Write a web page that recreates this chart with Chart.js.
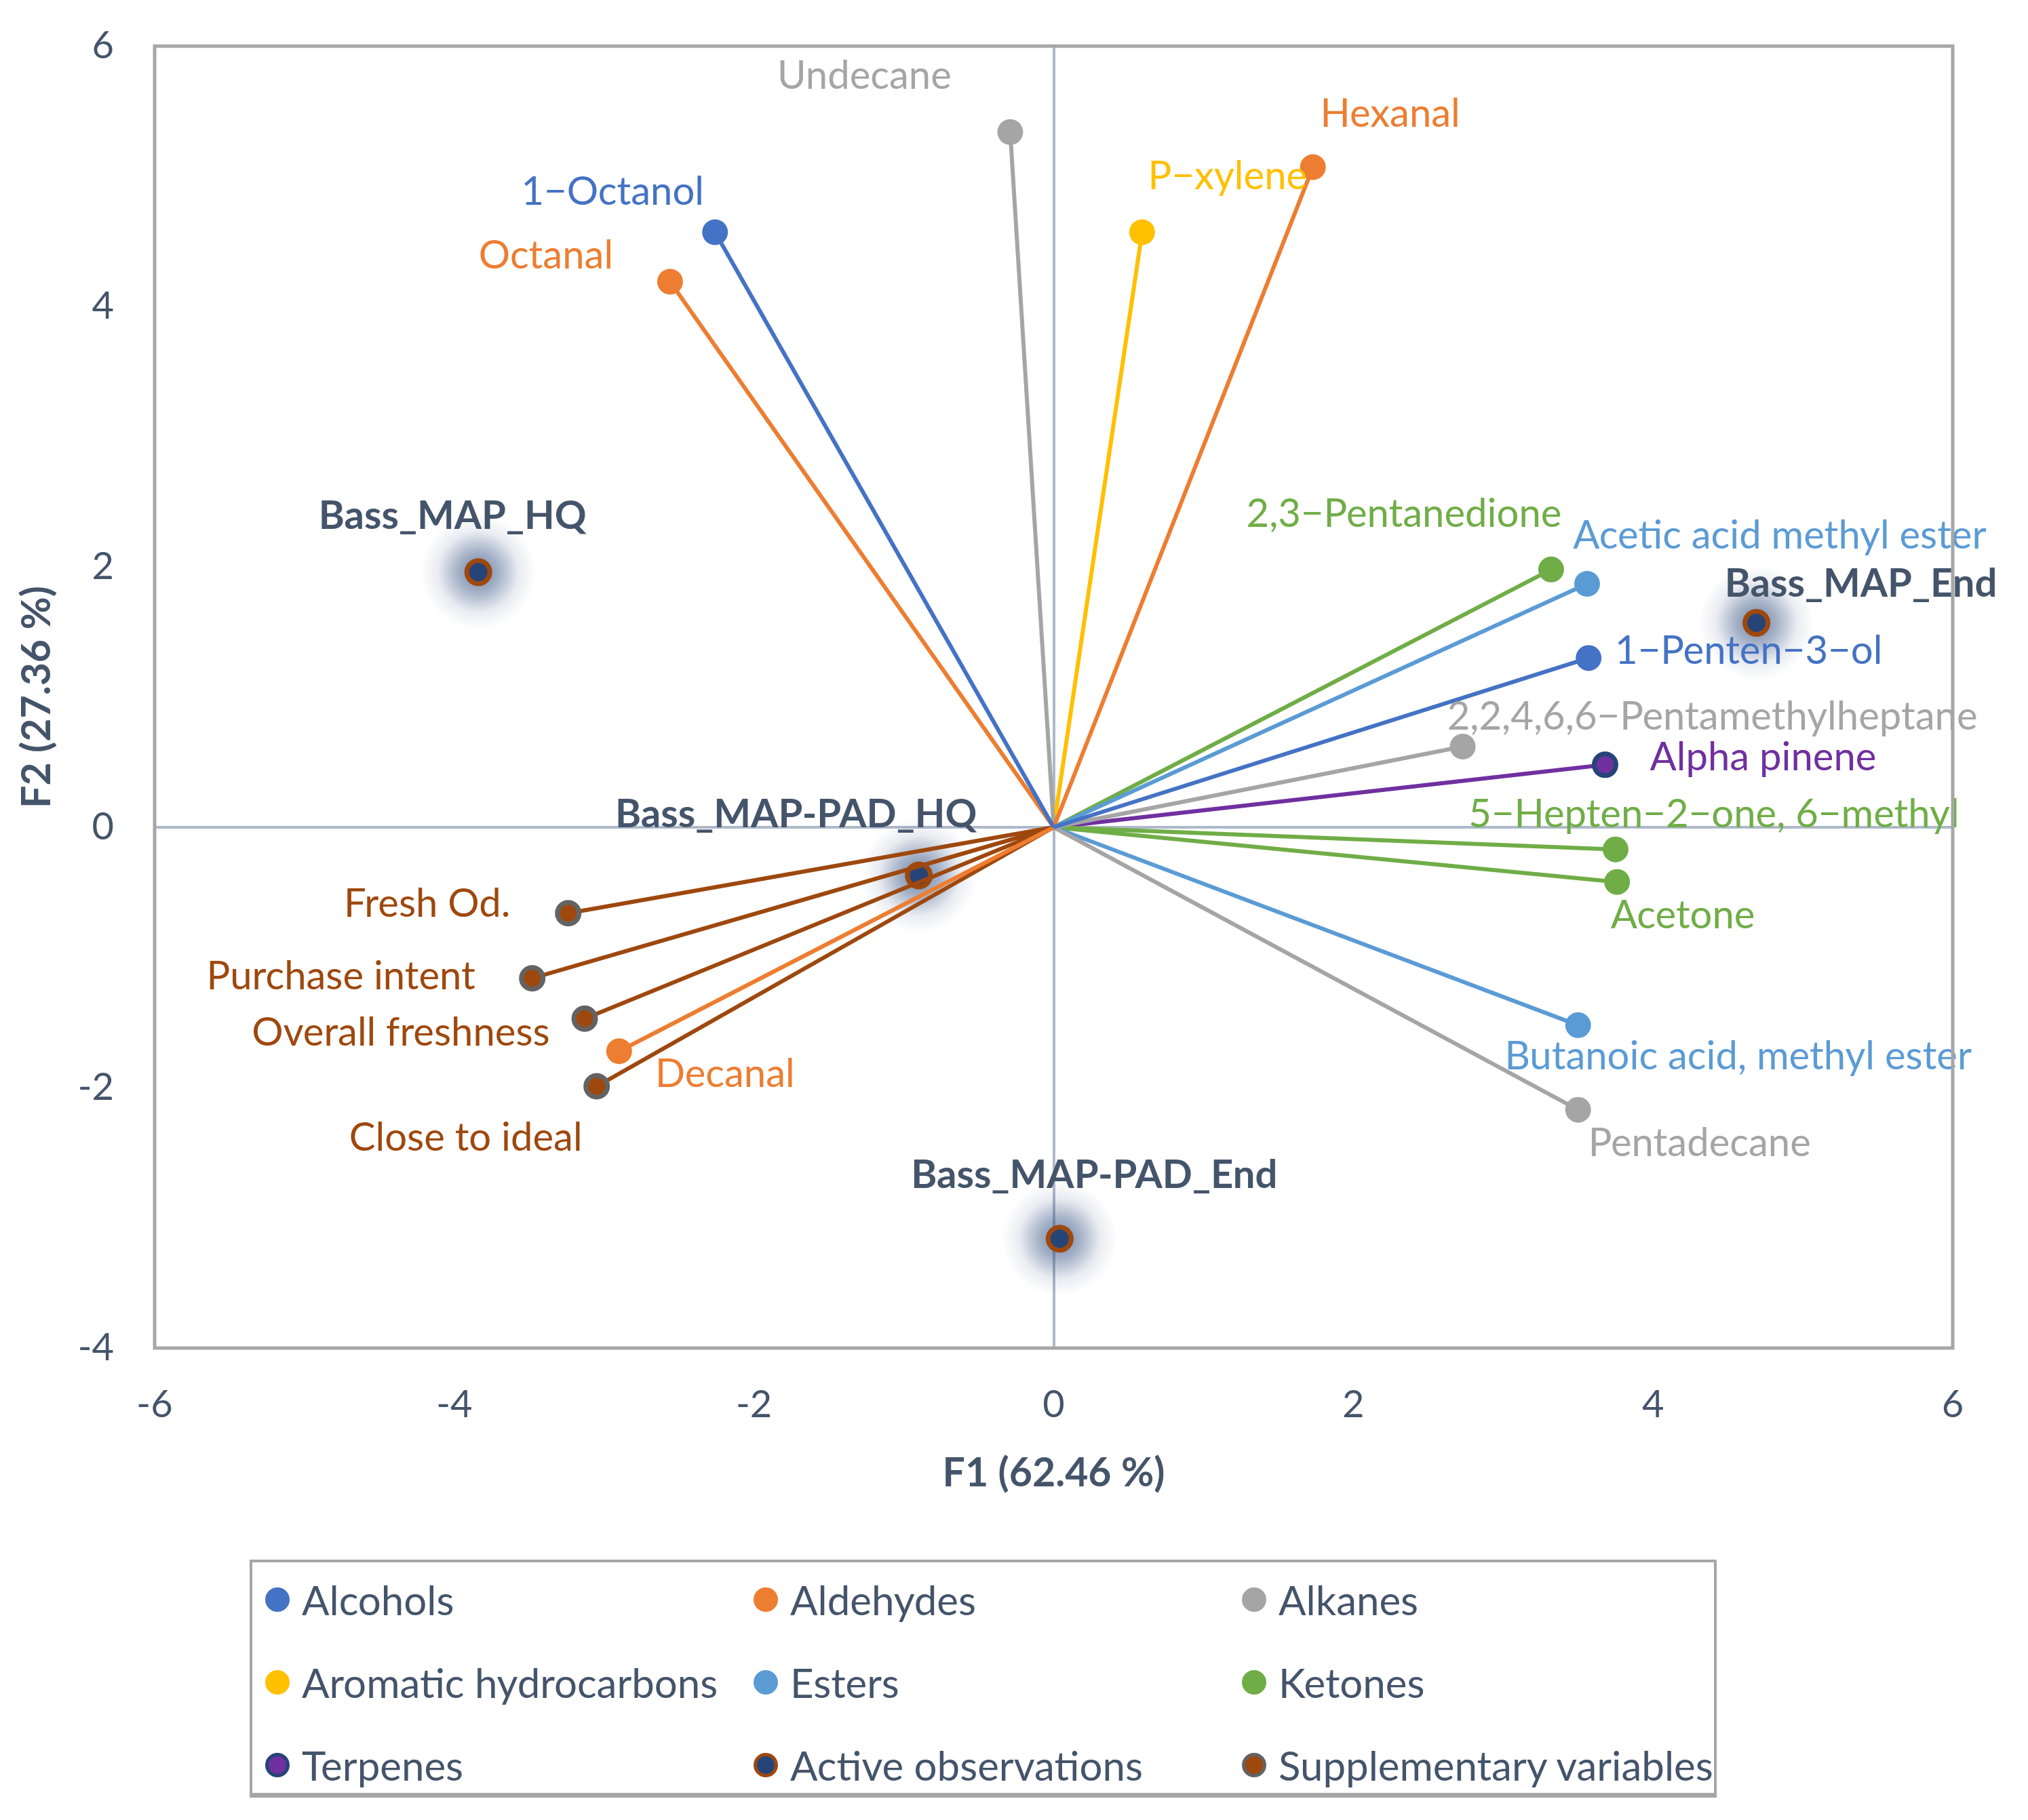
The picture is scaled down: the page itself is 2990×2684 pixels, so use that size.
<!DOCTYPE html>
<html>
<head>
<meta charset="utf-8">
<title>PCA biplot</title>
<script src="https://cdn.jsdelivr.net/npm/chart.js@4.4.1/dist/chart.umd.min.js"></script>
<style>
  html, body { margin: 0; padding: 0; background: #fff; overflow: hidden; }
  #wrap { position: relative; width: 2990px; height: 2684px; }
  #pcaChart { position: absolute; left: 0; top: 0; }
  #legend {
    position: absolute; left: 368px; top: 2300px; width: 2163px; height: 351px;
    box-sizing: border-box; border: 4px solid #A6A6A6; border-bottom-width: 7px;
    font-family: Lato, sans-serif; font-size: 60px; color: #44546A;
  }
  .item { position: absolute; height: 64px; display: flex; align-items: center; white-space: nowrap; }
  .dot { width: 26px; height: 26px; border-radius: 50%; border: 5px solid; margin-right: 18px; flex: none; }
</style>
</head>
<body>
<div id="wrap">
  <canvas id="pcaChart" width="2990" height="2684"></canvas>
  <div id="legend"></div>
</div>
<script>
// ---- data ----
const categories = ['Alcohols', 'Aldehydes', 'Alkanes', 'Aromatic hydrocarbons', 'Esters', 'Ketones', 'Terpenes', 'Active observations', 'Supplementary variables'];

const variableNames = ['1\u2212Octanol', '1\u2212Penten\u22123\u2212ol', 'Octanal', 'Hexanal', 'Decanal', 'Undecane', '2,2,4,6,6\u2212Pentamethylheptane', 'Pentadecane', 'P\u2212xylene', 'Acetic acid methyl ester', 'Butanoic acid, methyl ester', '2,3\u2212Pentanedione', '5\u2212Hepten\u22122\u2212one, 6\u2212methyl', 'Acetone', 'Alpha pinene'];
const variableGroups = ['Alcohols', 'Alcohols', 'Aldehydes', 'Aldehydes', 'Aldehydes', 'Alkanes', 'Alkanes', 'Alkanes', 'Aromatic hydrocarbons', 'Esters', 'Esters', 'Ketones', 'Ketones', 'Ketones', 'Terpenes'];
const variableF1 = [-2.26, 3.57, -2.56, 1.73, -2.90, -0.29, 2.73, 3.50, 0.59, 3.56, 3.50, 3.32, 3.75, 3.76, 3.68];
const variableF2 = [4.57, 1.30, 4.19, 5.07, -1.72, 5.34, 0.62, -2.17, 4.57, 1.87, -1.52, 1.98, -0.17, -0.42, 0.48];

const observationNames = ['Bass_MAP_HQ', 'Bass_MAP_End', 'Bass_MAP-PAD_HQ', 'Bass_MAP-PAD_End'];
const observationF1 = [-3.84, 4.69, -0.90, 0.04];
const observationF2 = [1.96, 1.57, -0.37, -3.16];

const supplementaryNames = ['Fresh Od.', 'Purchase intent', 'Overall freshness', 'Close to ideal'];
const supplementaryF1 = [-3.24, -3.48, -3.13, -3.05];
const supplementaryF2 = [-0.66, -1.16, -1.47, -1.99];

const xTickValues = [-6, -4, -2, 0, 2, 4, 6];
const yTickValues = [-4, -2, 0, 2, 4, 6];

// ---- styling ----
const groupStyle = {
  'Alcohols': { fill: '#4472C4', border: '#4472C4', line: '#4472C4', text: '#4472C4' },
  'Aldehydes': { fill: '#ED7D31', border: '#ED7D31', line: '#ED7D31', text: '#ED7D31' },
  'Alkanes': { fill: '#A5A5A5', border: '#A5A5A5', line: '#A5A5A5', text: '#A5A5A5' },
  'Aromatic hydrocarbons': { fill: '#FFC000', border: '#FFC000', line: '#FFC000', text: '#FFC000' },
  'Esters': { fill: '#5B9BD5', border: '#5B9BD5', line: '#5B9BD5', text: '#5B9BD5' },
  'Ketones': { fill: '#70AD47', border: '#70AD47', line: '#70AD47', text: '#70AD47' },
  'Terpenes': { fill: '#7030A0', border: '#264478', line: '#7030A0', text: '#7030A0' },
  'Active observations': { fill: '#264478', border: '#9E480E', line: null, text: '#44546A' },
  'Supplementary variables': { fill: '#9E480E', border: '#636363', line: '#9E480E', text: '#9E480E' }
};

// label offsets from the marker, in px
const labelOffsets = {
  '1\u2212Octanol': [-151, -59],
  '1\u2212Penten\u22123\u2212ol': [236, -10],
  'Octanal': [-183, -38],
  'Hexanal': [114, -78],
  'Decanal': [156, 34],
  'Undecane': [-215, -82],
  '2,2,4,6,6\u2212Pentamethylheptane': [368, -44],
  'Pentadecane': [179, 50],
  'P\u2212xylene': [126, -82],
  'Acetic acid methyl ester': [284, -71],
  'Butanoic acid, methyl ester': [236, 46],
  '2,3\u2212Pentanedione': [-217, -82],
  '5\u2212Hepten\u22122\u2212one, 6\u2212methyl': [145, -51],
  'Acetone': [97, 50],
  'Alpha pinene': [233, -11],
  'Bass_MAP_HQ': [-38, -82],
  'Bass_MAP_End': [154, -57],
  'Bass_MAP-PAD_HQ': [-181, -90],
  'Bass_MAP-PAD_End': [51, -93],
  'Fresh Od.': [-208, -13],
  'Purchase intent': [-282, -2],
  'Overall freshness': [-271, 21],
  'Close to ideal': [-193, 76]
};

const FONT = 'Lato, "Open Sans", sans-serif';
const AXIS_TEXT = '#44546A';

// one dataset per vector: origin -> variable
function vectorDataset(name, group, x, y) {
  const st = groupStyle[group];
  const ringed = group === 'Terpenes' || group === 'Supplementary variables';
  return {
    label: name,
    group: group,
    names: [null, name],
    data: [{ x: 0, y: 0 }, { x: x, y: y }],
    showLine: true,
    borderColor: st.line,
    borderWidth: 6,
    pointRadius: [0, ringed ? 16 : 19],
    pointBorderWidth: ringed ? 7 : 0,
    pointBackgroundColor: st.fill,
    pointBorderColor: st.border,
    labelColor: st.text,
    bold: false
  };
}

const datasets = [];
variableNames.forEach((n, i) => datasets.push(vectorDataset(n, variableGroups[i], variableF1[i], variableF2[i])));
supplementaryNames.forEach((n, i) => datasets.push(vectorDataset(n, 'Supplementary variables', supplementaryF1[i], supplementaryF2[i])));
datasets.push({
  label: 'Active observations',
  group: 'Active observations',
  names: observationNames,
  data: observationNames.map((n, i) => ({ x: observationF1[i], y: observationF2[i] })),
  showLine: false,
  pointRadius: 17,
  pointBorderWidth: 7,
  pointBackgroundColor: groupStyle['Active observations'].fill,
  pointBorderColor: groupStyle['Active observations'].border,
  labelColor: groupStyle['Active observations'].text,
  bold: true,
  glow: true
});

// soft glow behind the observation markers
const glowPlugin = {
  id: 'glow',
  beforeDatasetDraw(chart, args) {
    if (!chart.data.datasets[args.index].glow) return;
    const c = chart.ctx;
    c.save();
    args.meta.data.forEach(pt => {
      const g = c.createRadialGradient(pt.x, pt.y, 0, pt.x, pt.y, 85);
      g.addColorStop(0, 'rgba(38, 68, 120, 0.65)');
      g.addColorStop(0.35, 'rgba(38, 68, 120, 0.42)');
      g.addColorStop(0.7, 'rgba(38, 68, 120, 0.1)');
      g.addColorStop(1, 'rgba(38, 68, 120, 0)');
      c.fillStyle = g;
      c.beginPath();
      c.arc(pt.x, pt.y, 85, 0, Math.PI * 2);
      c.fill();
    });
    c.restore();
  }
};

// text next to each marker
const labelPlugin = {
  id: 'pointLabels',
  afterDatasetsDraw(chart) {
    const c = chart.ctx;
    c.save();
    c.textAlign = 'center';
    c.textBaseline = 'middle';
    chart.data.datasets.forEach((ds, i) => {
      const meta = chart.getDatasetMeta(i);
      ds.names.forEach((name, j) => {
        if (!name) return;
        const pt = meta.data[j];
        const off = labelOffsets[name] || [0, -50];
        c.font = (ds.bold ? 'bold ' : '') + '58px ' + FONT;
        c.fillStyle = ds.labelColor;
        c.fillText(name, pt.x + off[0], pt.y + off[1]);
      });
    });
    c.restore();
  }
};

// grey frame round the plot area
const framePlugin = {
  id: 'frame',
  afterDraw(chart) {
    const a = chart.chartArea;
    const c = chart.ctx;
    c.save();
    c.strokeStyle = '#A6A6A6';
    c.lineWidth = 5;
    c.strokeRect(a.left, a.top, a.right - a.left, a.bottom - a.top);
    c.restore();
  }
};

function zeroLine(ctx) {
  return ctx.tick && ctx.tick.value === 0 ? '#ADB9CA' : 'rgba(0,0,0,0)';
}

function buildLegend() {
  const box = document.getElementById('legend');
  categories.forEach((cat, i) => {
    const st = groupStyle[cat];
    const item = document.createElement('div');
    item.className = 'item';
    item.style.left = (19 + (i % 3) * 720) + 'px';
    item.style.top = (23 + Math.floor(i / 3) * 122) + 'px';
    const dot = document.createElement('span');
    dot.className = 'dot';
    dot.style.background = st.fill;
    dot.style.borderColor = st.border;
    const txt = document.createElement('span');
    txt.textContent = cat;
    item.appendChild(dot);
    item.appendChild(txt);
    box.appendChild(item);
  });
}

function createChart() {
  const ctx = document.getElementById('pcaChart').getContext('2d');
  new Chart(ctx, {
    type: 'scatter',
    data: { datasets: datasets },
    options: {
      responsive: false,
      animation: false,
      devicePixelRatio: 1,
      events: [],
      layout: { padding: { left: 0, top: 68, right: 111, bottom: 436 } },
      plugins: { legend: { display: false }, tooltip: { enabled: false } },
      scales: {
        x: {
          type: 'linear', min: -6, max: 6,
          afterBuildTicks: s => { s.ticks = xTickValues.map(v => ({ value: v })); },
          afterFit: s => { s.height = 260; },
          ticks: { font: { family: FONT, size: 56 }, color: AXIS_TEXT, padding: 50 },
          grid: { drawTicks: false, color: zeroLine, lineWidth: 4 },
          border: { display: false },
          title: {
            display: true, text: 'F1 (62.46 %)', color: AXIS_TEXT,
            font: { family: FONT, size: 59, weight: 'bold' },
            padding: { top: 0, bottom: 40 }
          }
        },
        y: {
          type: 'linear', min: -4, max: 6,
          afterBuildTicks: s => { s.ticks = yTickValues.map(v => ({ value: v })); },
          afterFit: s => { s.width = 228; s.paddingTop = 0; s.paddingBottom = 0; },
          ticks: { font: { family: FONT, size: 56 }, color: AXIS_TEXT, padding: 60 },
          grid: { drawTicks: false, color: zeroLine, lineWidth: 4 },
          border: { display: false },
          title: {
            display: true, text: 'F2 (27.36 %)', color: AXIS_TEXT,
            font: { family: FONT, size: 59, weight: 'bold' },
            padding: { top: 20, bottom: 0 }
          }
        }
      }
    },
    plugins: [glowPlugin, labelPlugin, framePlugin]
  });
}

buildLegend();
Promise.all([
  document.fonts.load('56px Lato'),
  document.fonts.load('bold 56px Lato')
]).catch(() => {}).then(createChart);
</script>
</body>
</html>
